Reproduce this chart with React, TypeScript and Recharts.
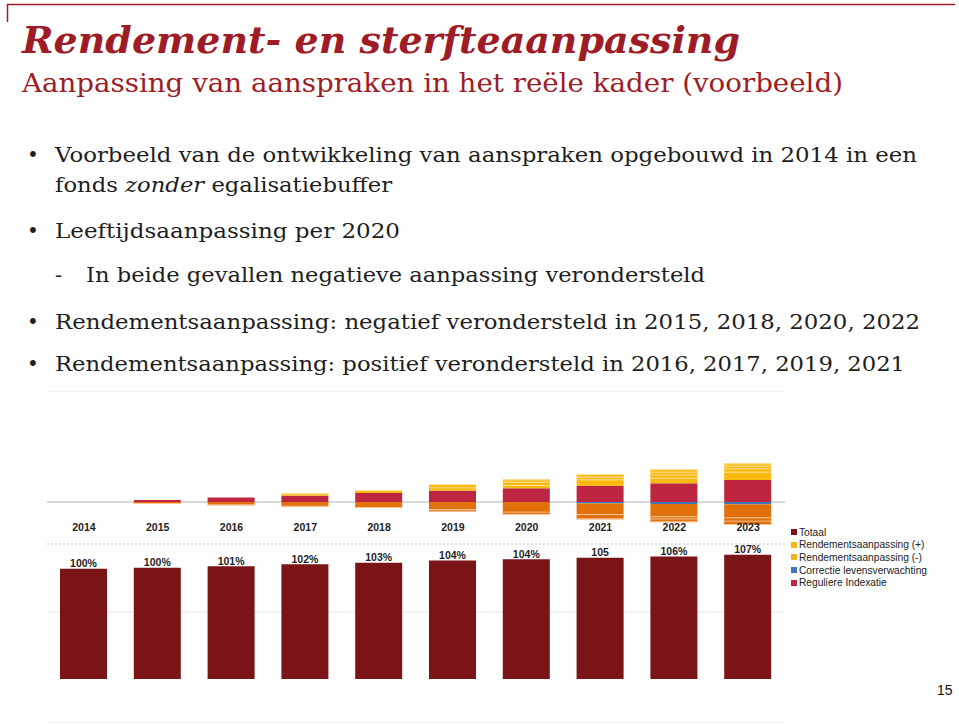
import React from "react";
import {
  BarChart,
  Bar,
  XAxis,
  YAxis,
  CartesianGrid,
  ReferenceLine,
  LabelList,
} from "recharts";

// jaren
const years = ["2014", "2015", "2016", "2017", "2018", "2019", "2020", "2021", "2022", "2023"];

// bovenste grafiek: opbouw van de aanpassingen (relatieve punten)
const reguliereIndexatie = [0, 2, 4.5, 6.3, 9, 11.3, 13.7, 16, 18.7, 22];
const rendPlusLaag1 = [0, 0, 0, 2.4, 3, 3.4, 3.3, 6.7, 5.6, 8.3];
const rendPlusLaag2 = [0, 0, 0, 0, 0, 3.3, 3.3, 2.6, 3.4, 3.4];
const rendPlusLaag3 = [0, 0, 0, 0, 0, 0, 2.4, 2.7, 2.6, 2.6];
const rendPlusLaag4 = [0, 0, 0, 0, 0, 0, 0, 0, 2.7, 2.4];
const correctieLevensverwachting = [0, 0, 0, 0, 0, 0, 0, -1.5, -2, -2.3];
const rendMinLaag1 = [0, -2, -3.3, -4.7, -6, -8, -10.7, -11.5, -13.2, -14];
const rendMinLaag2 = [0, 0, 0, 0, 0, -1.7, -2.3, -4.3, -2.3, -3.4];
const rendMinLaag3 = [0, 0, 0, 0, 0, 0, 0, 0, -2.7, -3.3];

// onderste grafiek: totaal
const totaal = [100.1, 100.6, 101.4, 102.4, 103.1, 104.25, 104.9, 105.6, 106.25, 107.1];
const totaalLabels = ["100%", "100%", "101%", "102%", "103%", "104%", "104%", "105", "106%", "107%"];

const legendItems = [
  { label: "Totaal", color: "#7A1416" },
  { label: "Rendementsaanpassing (+)", color: "#F7B80F" },
  { label: "Rendementsaanpassing (-)", color: "#EFB323" },
  { label: "Correctie levensverwachting", color: "#3D78B8" },
  { label: "Reguliere Indexatie", color: "#BE2540" },
];

const upperData = years.map((year, i) => ({
  year,
  indexatie: reguliereIndexatie[i],
  plus1: rendPlusLaag1[i],
  plus2: rendPlusLaag2[i],
  plus3: rendPlusLaag3[i],
  plus4: rendPlusLaag4[i],
  correctie: correctieLevensverwachting[i],
  min1: rendMinLaag1[i],
  min2: rendMinLaag2[i],
  min3: rendMinLaag3[i],
}));

const lowerData = years.map((year, i) => ({ year, totaal: totaal[i] }));

const DARK_RED = "#9E1C25";
const TEXT = "#1E1E1E";
const SANS = "'Liberation Sans', Arial, sans-serif";
const SERIF = "'DejaVu Serif', Georgia, serif";

// segment met een lichte scheidingslijn aan de buitenkant
function layerShape(side: "up" | "down", edge?: string) {
  return (props: any) => {
    const { x, y, width, height, fill } = props;
    const h = Math.abs(height || 0);
    if (!h || h < 0.05) return <g />;
    const top = height < 0 ? y + height : y;
    const edgeY = side === "up" ? top + 0.5 : top + h - 0.5;
    return (
      <g>
        <rect x={x} y={top} width={width} height={h} fill={fill} />
        {edge && <line x1={x} x2={x + width} y1={edgeY} y2={edgeY} stroke={edge} strokeWidth={1} />}
      </g>
    );
  };
}

// rasterlijn op een vaste waarde, via de schaal van de y-as
const gridAt = (value: number) => (args: any) => {
  const scale = args?.yAxis?.scale;
  if (!scale) return [];
  const fn = typeof scale === "function" ? scale : scale.map ?? scale.scale;
  const pos = typeof fn === "function" ? fn(value) : undefined;
  return typeof pos === "number" && !isNaN(pos) ? [pos] : [];
};

const YearTick = (props: any) => {
  const { x, y, payload } = props;
  return (
    <text x={x} y={y - 13} textAnchor="middle" fontFamily={SANS} fontSize={10.5} fontWeight="bold" fill={TEXT}>
      {payload.value}
    </text>
  );
};

const TotaalLabel = (props: any) => {
  const { x, y, width, index } = props;
  return (
    <text x={x + width / 2} y={y - 1.5} textAnchor="middle" fontFamily={SANS} fontSize={10.5} fontWeight="bold" fill={TEXT}>
      {totaalLabels[index]}
    </text>
  );
};

function Slide() {
  const bullet = (yy: number) => (
    <text x={27} y={yy} fontFamily={SERIF} fontSize={20} fill={TEXT}>
      •
    </text>
  );
  return (
    <svg width={959} height={380} style={{ position: "absolute", left: 0, top: 0 }}>
      <line x1={7} x2={955} y1={4.5} y2={4.5} stroke={DARK_RED} strokeWidth={1.5} />
      <line x1={7.5} x2={7.5} y1={4} y2={22} stroke={DARK_RED} strokeWidth={1.5} />
      <text x={22} y={53} fontFamily={SERIF} fontSize={37} fontWeight="bold" fontStyle="italic" fill={DARK_RED}
        textLength={718} lengthAdjust="spacingAndGlyphs">
        Rendement- en sterfteaanpassing
      </text>
      <text x={22} y={92} fontFamily={SERIF} fontSize={26} fill={DARK_RED} textLength={821} lengthAdjust="spacingAndGlyphs">
        Aanpassing van aanspraken in het reële kader (voorbeeld)
      </text>

      {bullet(162)}
      <text x={55} y={162} fontFamily={SERIF} fontSize={21} fill={TEXT} textLength={862} lengthAdjust="spacingAndGlyphs">
        Voorbeeld van de ontwikkeling van aanspraken opgebouwd in 2014 in een
      </text>
      <text x={55} y={192} fontFamily={SERIF} fontSize={21} fill={TEXT} textLength={337} lengthAdjust="spacingAndGlyphs">
        fonds <tspan fontStyle="italic">zonder</tspan> egalisatiebuffer
      </text>

      {bullet(238)}
      <text x={55} y={238} fontFamily={SERIF} fontSize={21} fill={TEXT} textLength={345} lengthAdjust="spacingAndGlyphs">
        Leeftijdsaanpassing per 2020
      </text>
      <text x={55} y={282} fontFamily={SERIF} fontSize={21} fill={TEXT}>
        -
      </text>
      <text x={86} y={282} fontFamily={SERIF} fontSize={21} fill={TEXT} textLength={619} lengthAdjust="spacingAndGlyphs">
        In beide gevallen negatieve aanpassing verondersteld
      </text>

      {bullet(329)}
      <text x={55} y={329} fontFamily={SERIF} fontSize={21} fill={TEXT} textLength={865} lengthAdjust="spacingAndGlyphs">
        Rendementsaanpassing: negatief verondersteld in 2015, 2018, 2020, 2022
      </text>
      {bullet(371)}
      <text x={55} y={371} fontFamily={SERIF} fontSize={21} fill={TEXT} textLength={850} lengthAdjust="spacingAndGlyphs">
        Rendementsaanpassing: positief verondersteld in 2016, 2017, 2019, 2021
      </text>
    </svg>
  );
}

export default function App() {
  return (
    <div style={{ position: "absolute", left: 0, top: 0, width: 959, height: 725, background: "#fff", overflow: "hidden" }}>
      <Slide />

      <div style={{ position: "absolute", left: 0, top: 380 }}>
        <BarChart
          width={959}
          height={175}
          data={upperData}
          stackOffset="sign"
          barSize={47}
          margin={{ top: 11, right: 174, left: 47, bottom: 10 }}
        >
          <CartesianGrid
            vertical={false}
            stroke="#cdcdcd"
            strokeWidth={1.5}
            horizontalCoordinatesGenerator={gridAt(0)}
          />
          <XAxis
            dataKey="year"
            height={1}
            tickLine={false}
            tickSize={0}
            tickMargin={0}
            axisLine={{ stroke: "#c4c4c4", strokeDasharray: "2 2" }}
            tick={<YearTick />}
            interval={0}
          />
          <YAxis hide domain={[-42, 111]} allowDataOverflow />
          <ReferenceLine y={111} stroke="#efefef" />
          <Bar dataKey="indexatie" stackId="a" fill="#BE2540" isAnimationActive={false} shape={layerShape("up")} />
          <Bar dataKey="plus1" stackId="a" fill="#F9B90F" isAnimationActive={false} shape={layerShape("up", "#FCE3A6")} />
          <Bar dataKey="plus2" stackId="a" fill="#F9B90F" isAnimationActive={false} shape={layerShape("up", "#FCE3A6")} />
          <Bar dataKey="plus3" stackId="a" fill="#F9B90F" isAnimationActive={false} shape={layerShape("up", "#FCE3A6")} />
          <Bar dataKey="plus4" stackId="a" fill="#F9B90F" isAnimationActive={false} shape={layerShape("up", "#FCE3A6")} />
          <Bar dataKey="correctie" stackId="a" fill="#3D78B8" isAnimationActive={false} shape={layerShape("down")} />
          <Bar dataKey="min1" stackId="a" fill="#E2700B" isAnimationActive={false} shape={layerShape("down", "#F5C79B")} />
          <Bar dataKey="min2" stackId="a" fill="#E2700B" isAnimationActive={false} shape={layerShape("down", "#F5C79B")} />
          <Bar dataKey="min3" stackId="a" fill="#E2700B" isAnimationActive={false} shape={layerShape("down", "#F5C79B")} />
        </BarChart>
      </div>

      <div style={{ position: "absolute", left: 0, top: 535 }}>
        <BarChart
          width={959}
          height={150}
          data={lowerData}
          barSize={47}
          margin={{ top: 10, right: 174, left: 47, bottom: 6 }}
        >
          <CartesianGrid vertical={false} stroke="#e6e6e6" horizontalCoordinatesGenerator={gridAt(78.5)} />
          <XAxis dataKey="year" hide />
          <YAxis hide domain={[45, 112]} allowDataOverflow />
          <Bar dataKey="totaal" fill="#7A1416" isAnimationActive={false}>
            <LabelList dataKey="totaal" content={<TotaalLabel />} />
          </Bar>
        </BarChart>
      </div>

      <div style={{ position: "absolute", left: 47, top: 722, width: 738, height: 1, background: "#eeeeee" }} />

      <div style={{ position: "absolute", left: 791, top: 526, fontFamily: SANS, fontSize: 10.2, color: "#222" }}>
        {legendItems.map((item) => (
          <div key={item.label} style={{ display: "flex", alignItems: "center", height: 12.6 }}>
            <span style={{ width: 6, height: 6, background: item.color, marginRight: 2, display: "inline-block" }} />
            <span>{item.label}</span>
          </div>
        ))}
      </div>

      <div style={{ position: "absolute", left: 937, top: 682, fontFamily: SANS, fontSize: 14, color: "#111" }}>15</div>
    </div>
  );
}
